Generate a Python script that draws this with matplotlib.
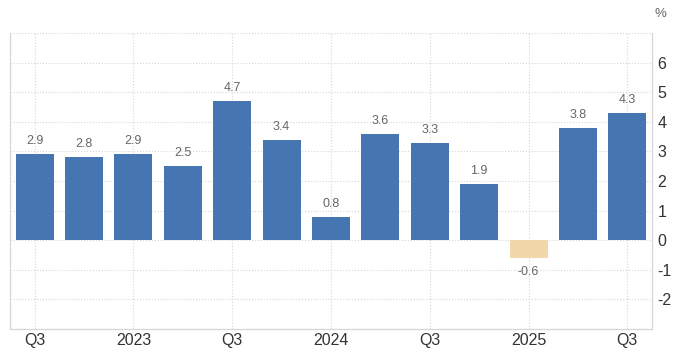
import matplotlib
matplotlib.use('Agg')
import matplotlib.pyplot as plt
import numpy as np

#### Data ####
quarters = ['2022Q3', '2022Q4', '2023Q1', '2023Q2', '2023Q3', '2023Q4', '2024Q1',
            '2024Q2', '2024Q3', '2024Q4', '2025Q1', '2025Q2', '2025Q3']
values = [2.9, 2.8, 2.9, 2.5, 4.7, 3.4, 0.8, 3.6, 3.3, 1.9, -0.6, 3.8, 4.3]
tick_labels = ['Q3', '2023', 'Q3', '2024', 'Q3', '2025', 'Q3']
tick_idx = [0, 2, 4, 6, 8, 10, 12]
y_ticks = [-2, -1, 0, 1, 2, 3, 4, 5, 6]

plt.rcParams['font.family'] = ['Liberation Sans', 'DejaVu Sans']
plt.rcParams['axes.unicode_minus'] = False

BLUE = '#4576b2'
BEIGE = '#f2d7aa'
GRID = '#d6d6d6'

#### Plot ####
fig = plt.figure(figsize=(6.77, 3.59), dpi=100)
ax = fig.add_axes([10 / 677, 1 - 329 / 359, 642 / 677, 296 / 359])

x = np.arange(len(values))
colors = [BLUE if v >= 0 else BEIGE for v in values]
ax.bar(x, values, width=0.77, color=colors, zorder=3)

for xi, v in zip(x, values):
    if v >= 0:
        ax.annotate(f'{v:.1f}', (xi, v), xytext=(0, 5), textcoords='offset points',
                    ha='center', va='bottom', fontsize=9, color='#666666')
    else:
        ax.annotate(f'{v:.1f}', (xi, v), xytext=(0, -6), textcoords='offset points',
                    ha='center', va='top', fontsize=9, color='#666666')

ax.set_xlim(-0.5, 12.5)
ax.set_ylim(-3, 7)
ax.set_xticks(tick_idx)
ax.set_xticklabels(tick_labels)
ax.set_yticks(y_ticks)
ax.yaxis.tick_right()
ax.tick_params(axis='both', length=0, labelsize=11.5, colors='#333333')
ax.tick_params(axis='x', pad=3)
ax.tick_params(axis='y', pad=4)

ax.grid(True, color=GRID, linestyle=':', linewidth=0.8, zorder=0)
ax.axhline(7, color=GRID, linestyle=':', linewidth=0.8, clip_on=False)
ax.spines['top'].set_visible(False)
for s in ['left', 'right', 'bottom']:
    ax.spines[s].set_color(GRID)
    ax.spines[s].set_linewidth(0.9)

fig.text(660 / 677, 1 - 14 / 359, '%', ha='center', va='center', fontsize=9.5, color='#666666')

fig.savefig('out.png', dpi=100)
